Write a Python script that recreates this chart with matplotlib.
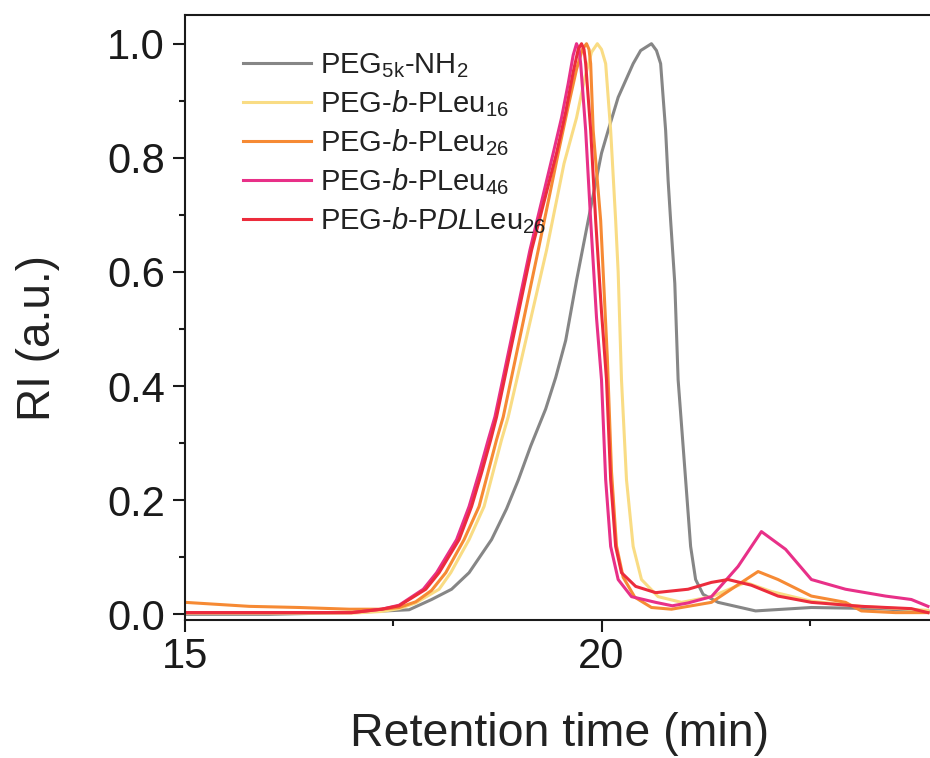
import matplotlib
matplotlib.use("Agg")
import matplotlib.pyplot as plt
from matplotlib.ticker import MultipleLocator, FormatStrFormatter

plt.rcParams['font.family'] = ['Liberation Sans', 'DejaVu Sans']
plt.rcParams['mathtext.fontset'] = 'custom'
plt.rcParams['mathtext.rm'] = 'Liberation Sans'
plt.rcParams['mathtext.it'] = 'Liberation Sans:italic'

# values (retention time in min, normalised RI)
peg_x = [15.0, 16.0, 16.97, 17.69, 17.96, 18.20, 18.41, 18.68, 18.86, 19.00, 19.15,
         19.33, 19.45, 19.57, 19.70, 19.78, 19.86, 20.00, 20.08, 20.20, 20.38, 20.47,
         20.60, 20.66, 20.71, 20.74, 20.77, 20.80, 20.83, 20.88, 20.92, 21.01, 21.07,
         21.13, 21.22, 21.40, 21.85, 22.52, 23.32, 23.92]
peg_y = [0.0, 0.0, 0.003, 0.008, 0.026, 0.044, 0.073, 0.131, 0.185, 0.235, 0.295,
         0.360, 0.415, 0.480, 0.585, 0.645, 0.705, 0.808, 0.848, 0.906, 0.965, 0.988,
         1.0, 0.988, 0.965, 0.906, 0.848, 0.76, 0.69, 0.58, 0.411, 0.236, 0.119,
         0.061, 0.035, 0.021, 0.006, 0.012, 0.010, 0.005]

leu16_x = [15.0, 16.0, 17.0, 17.36, 17.57, 17.77, 18.05, 18.19, 18.41, 18.59, 18.80,
           18.88, 19.34, 19.55, 19.70, 19.80, 19.88, 19.95, 20.00, 20.05, 20.08,
           20.11, 20.17, 20.20, 20.24, 20.30, 20.38, 20.48, 20.68, 20.96, 21.32,
           21.73, 22.04, 22.52, 23.12, 23.92]
leu16_y = [0.002, 0.002, 0.002, 0.005, 0.010, 0.020, 0.044, 0.073, 0.131, 0.189, 0.306,
           0.346, 0.638, 0.79, 0.87, 0.94, 0.985, 1.0, 0.99, 0.965, 0.906,
           0.848, 0.69, 0.60, 0.411, 0.236, 0.119, 0.061, 0.031, 0.021, 0.031,
           0.056, 0.040, 0.023, 0.014, 0.007]

leu26_x = [15.0, 15.77, 16.37, 16.97, 17.36, 17.57, 17.77, 17.96, 18.13, 18.35, 18.53,
           18.74, 18.82, 19.24, 19.48, 19.60, 19.70, 19.77, 19.82, 19.85, 19.87,
           19.90, 19.99, 20.07, 20.12, 20.18, 20.26, 20.40, 20.60, 20.84, 21.32,
           21.64, 21.88, 22.12, 22.52, 22.93, 23.12, 23.53, 23.92]
leu26_y = [0.021, 0.014, 0.012, 0.009, 0.009, 0.012, 0.022, 0.042, 0.073, 0.131, 0.189,
           0.306, 0.346, 0.638, 0.808, 0.89, 0.955, 0.99, 1.0, 0.99, 0.965,
           0.848, 0.69, 0.45, 0.25, 0.12, 0.065, 0.030, 0.012, 0.009, 0.021,
           0.052, 0.075, 0.061, 0.032, 0.021, 0.006, 0.003, 0.003]

leu46_x = [15.0, 16.0, 17.0, 17.36, 17.57, 17.86, 18.02, 18.26, 18.41, 18.53, 18.64,
           18.72, 19.14, 19.42, 19.52, 19.60, 19.66, 19.70, 19.73, 19.75, 19.81,
           19.87, 19.94, 20.00, 20.05, 20.11, 20.20, 20.36, 20.65, 20.85, 21.04,
           21.32, 21.64, 21.92, 22.21, 22.52, 22.93, 23.41, 23.72, 23.92]
leu46_y = [0.003, 0.003, 0.003, 0.009, 0.016, 0.044, 0.073, 0.131, 0.189, 0.248, 0.306,
           0.346, 0.638, 0.808, 0.87, 0.93, 0.98, 1.0, 0.99, 0.965, 0.848,
           0.69, 0.52, 0.411, 0.236, 0.119, 0.061, 0.031, 0.021, 0.015, 0.020,
           0.031, 0.084, 0.145, 0.114, 0.061, 0.044, 0.032, 0.026, 0.014]

dl26_x = [15.0, 16.0, 17.0, 17.36, 17.57, 17.89, 18.05, 18.29, 18.44, 18.56, 18.67,
          18.74, 19.16, 19.46, 19.57, 19.66, 19.72, 19.76, 19.79, 19.81, 19.87,
          19.93, 20.00, 20.06, 20.11, 20.17, 20.24, 20.41, 20.65, 21.04, 21.32,
          21.52, 21.80, 22.12, 22.52, 23.12, 23.72, 23.92]
dl26_y = [0.003, 0.003, 0.003, 0.009, 0.015, 0.044, 0.073, 0.131, 0.189, 0.248, 0.306,
          0.346, 0.638, 0.808, 0.88, 0.95, 0.99, 1.0, 0.99, 0.965, 0.848,
          0.69, 0.53, 0.411, 0.236, 0.119, 0.073, 0.049, 0.038, 0.044, 0.056,
          0.061, 0.051, 0.032, 0.021, 0.014, 0.010, 0.003]

labels = [r'PEG$_\mathregular{5k}$-NH$_\mathregular{2}$',
          r'PEG-$\mathit{b}$-PLeu$_\mathregular{16}$',
          r'PEG-$\mathit{b}$-PLeu$_\mathregular{26}$',
          r'PEG-$\mathit{b}$-PLeu$_\mathregular{46}$',
          r'PEG-$\mathit{b}$-P$\mathit{DL}$Leu$_\mathregular{26}$']
colors = ['#868686', '#F9DC84', '#F68A34', '#E83088', '#EC2C3C']

fig = plt.figure(figsize=(9.3, 7.58), dpi=100)
ax = fig.add_axes([0.199, 0.182, 0.806, 0.798])

series = [(peg_x, peg_y), (leu16_x, leu16_y), (leu26_x, leu26_y),
          (leu46_x, leu46_y), (dl26_x, dl26_y)]
for (xs, ys), lab, c in zip(series, labels, colors):
    ax.plot(xs, ys, color=c, lw=2.2, label=lab, solid_joinstyle='round')

ax.set_xlim(15, 24)
ax.set_ylim(-0.01, 1.05)
ax.xaxis.set_major_locator(MultipleLocator(5))
ax.xaxis.set_minor_locator(MultipleLocator(2.5))
ax.yaxis.set_major_locator(MultipleLocator(0.2))
ax.yaxis.set_minor_locator(MultipleLocator(0.1))
ax.yaxis.set_major_formatter(FormatStrFormatter('%.1f'))

for s in ax.spines.values():
    s.set_linewidth(1.5)
    s.set_color('#1a1a1a')
ax.tick_params(which='major', direction='out', length=8.5, width=1.5,
               labelsize=30, pad=6, colors='#1a1a1a')
ax.tick_params(which='minor', direction='out', length=4.5, width=1.5, colors='#1a1a1a')
ax.tick_params(axis='x', which='major', pad=4)

ax.set_xlabel('Retention time (min)', fontsize=33.5, color='#222222', labelpad=25)
ax.set_ylabel('RI (a.u.)', fontsize=33, color='#222222', labelpad=34)
ax.yaxis.label.set_y(0.466)

ax.legend(loc='upper left', bbox_to_anchor=(0.077, 0.94), frameon=False,
          fontsize=21, handlelength=2.35, handletextpad=0.3, labelspacing=0.28,
          borderaxespad=0, borderpad=0, labelcolor='#222222')

fig.savefig('out.png', dpi=100)
